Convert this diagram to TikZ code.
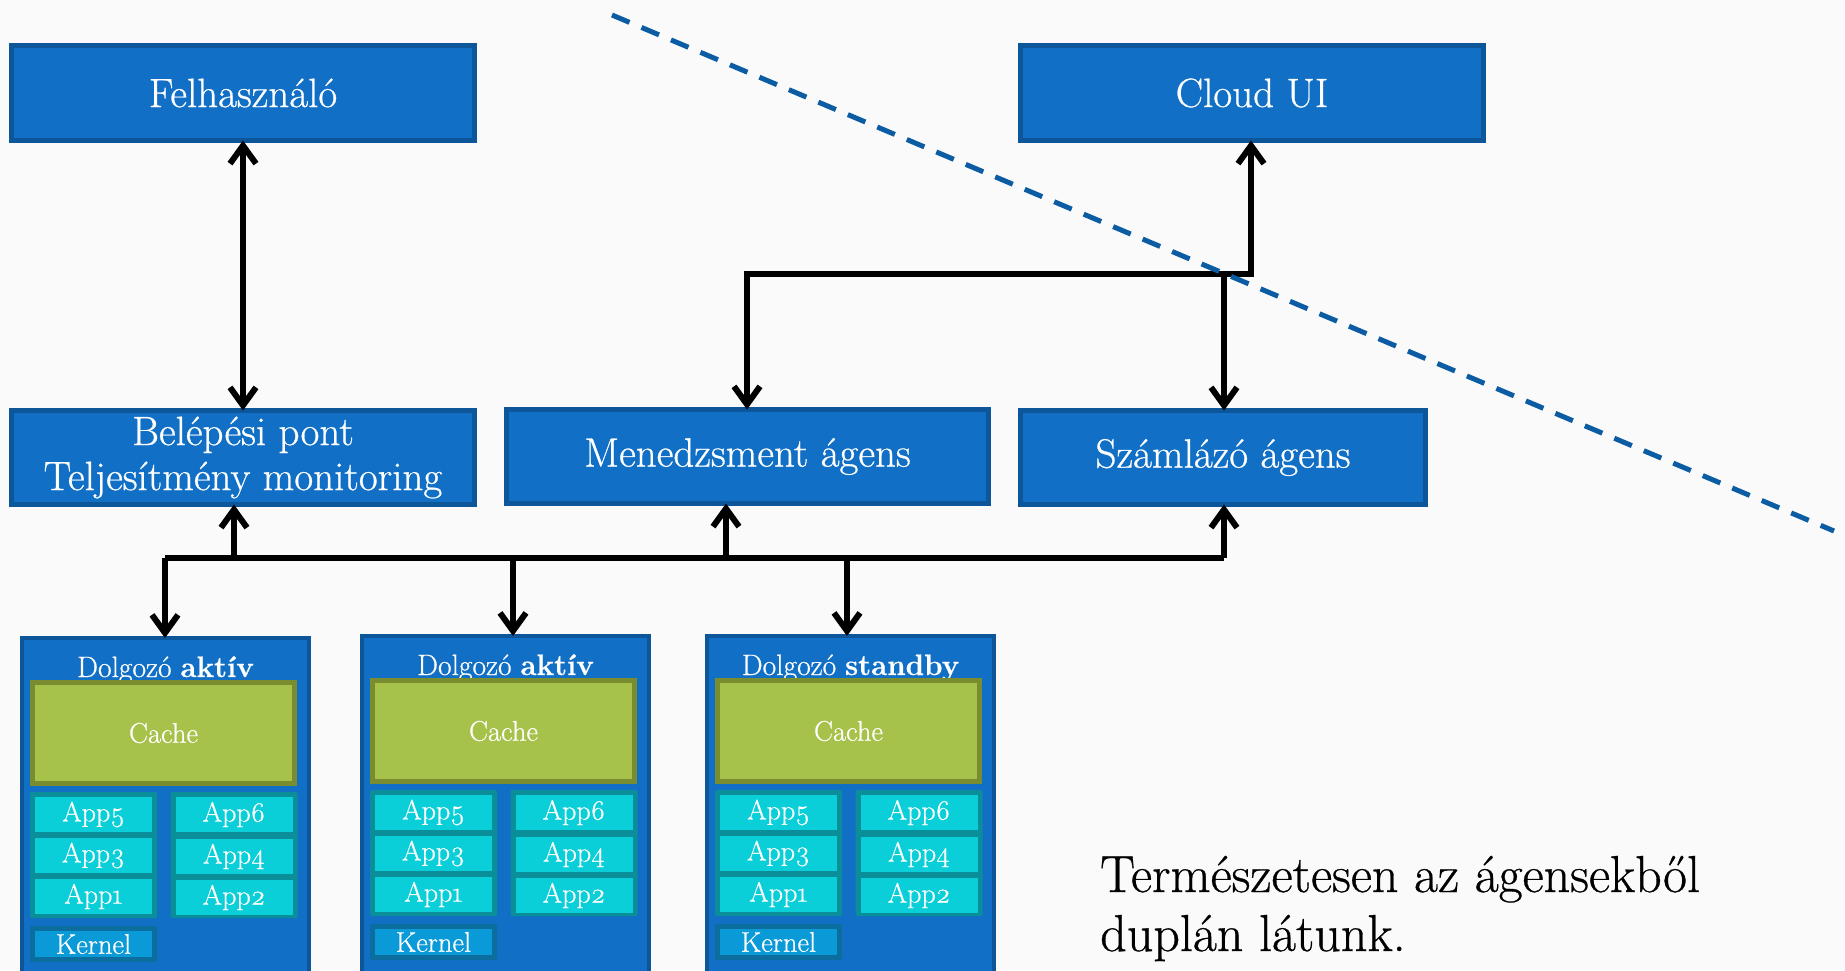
\documentclass[tikz,border=0pt]{standalone}
\usepackage{fontspec}
\setmainfont{Latin Modern Roman}[FakeBold=0.6]
\usetikzlibrary{arrows.meta}
\definecolor{bg}{HTML}{FAFAFA}
\definecolor{boxfill}{HTML}{1170C6}
\definecolor{boxline}{HTML}{0D5699}
\definecolor{cachefill}{HTML}{A7C24B}
\definecolor{cacheline}{HTML}{7A8C30}
\definecolor{grpteal}{HTML}{0A8E99}
\definecolor{appcyan}{HTML}{0BCFD8}
\definecolor{kerngrp}{HTML}{0B6E9E}
\definecolor{kernfill}{HTML}{0A9AD8}
\definecolor{dashblue}{HTML}{0B5CA3}
\tikzset{
  bigbox/.style={draw=boxline, line width=5pt, fill=boxfill, text=white,
    font=\fontsize{41}{45}\selectfont, align=center, inner sep=0pt, outer sep=0pt},
  workerbox/.style={draw=boxline, line width=4pt, fill=boxfill, inner sep=0pt, outer sep=0pt},
  wtitle/.style={text=white, font=\fontsize{29.5}{34}\selectfont, inner sep=0pt},
  cachebox/.style={draw=cacheline, line width=5pt, fill=cachefill, text=white,
    font=\fontsize{28.5}{32}\selectfont, inner sep=0pt, outer sep=0pt,
    minimum width=262pt, minimum height=101pt},
  grpbox/.style={fill=grpteal, inner sep=0pt, outer sep=0pt, rounded corners=1.5pt,
    minimum width=127pt, minimum height=126pt},
  appbox/.style={fill=appcyan, text=white, font=\fontsize{28}{32}\selectfont,
    inner sep=0pt, outer sep=0pt, minimum width=117pt, minimum height=35pt},
  kgrpbox/.style={fill=kerngrp, inner sep=0pt, outer sep=0pt, rounded corners=1.5pt,
    minimum width=127pt, minimum height=36pt},
  kernbox/.style={fill=kernfill, text=white, font=\fontsize{28.5}{32}\selectfont,
    inner sep=0pt, outer sep=0pt, minimum width=117pt, minimum height=26pt},
  conn/.style={line width=6pt, black, line join=miter},
  tip/.style={arrows={-Straight Barb[length=18pt,width=26pt]}},
  dtip/.style={arrows={Straight Barb[length=18pt,width=26pt]-Straight Barb[length=18pt,width=26pt]}},
  divider/.style={draw=dashblue, line width=5pt, dash pattern=on 19pt off 13pt},
  notetext/.style={text=black, font=\fontsize{52}{59}\selectfont, align=left, inner sep=0pt}
}
\newcommand\dolgozo[4]{%
  \node[workerbox, minimum width=287pt, minimum height=400pt] (#1) at ({#2+145.5},{#3+200}) {};
  \node[wtitle, anchor=base] (#1t) at ({#2+145.5},{#3+39}) {#4};
  \node[cachebox] (#1c) at ({#2+143.5},{#3+95}) {Cache};
  \node[grpbox] (#1gl) at ({#2+73.5},{#3+217}) {};
  \node[grpbox] (#1gr) at ({#2+214},{#3+217}) {};
  \node[appbox] (#1a5) at ({#2+73.5},{#3+176.5}) {App\textfiveoldstyle};
  \node[appbox] (#1a3) at ({#2+73.5},{#3+217.5}) {App\textthreeoldstyle};
  \node[appbox] (#1a1) at ({#2+73.5},{#3+258.5}) {App\textoneoldstyle};
  \node[appbox] (#1a6) at ({#2+214},{#3+176.5}) {App\textsixoldstyle};
  \node[appbox] (#1a4) at ({#2+214},{#3+218.5}) {App\textfouroldstyle};
  \node[appbox] (#1a2) at ({#2+214},{#3+259.5}) {App\texttwooldstyle};
  \node[kgrpbox] (#1kg) at ({#2+73.5},{#3+306}) {};
  \node[kernbox] (#1k) at ({#2+73.5},{#3+306}) {Kernel};
}
\begin{document}
\begin{tikzpicture}[x=1pt,y=-1pt]
\useasboundingbox (0,0) rectangle (1845,970);
\fill[bg] (0,0) rectangle (1845,970);
\clip (0,0) rectangle (1845,970);

% top boxes
\node[bigbox, minimum width=463pt, minimum height=95pt] (fel) at (243,93) {Felhasználó};
\node[bigbox, minimum width=463pt, minimum height=95pt] (cloud) at (1252,93) {Cloud UI};
% middle boxes
\node[bigbox, minimum width=463pt, minimum height=94pt] (bel) at (243,457.5) {Belépési pont\\Teljesítmény monitoring};
\node[bigbox, minimum width=482pt, minimum height=94pt] (men) at (747.5,456.5) {Menedzsment ágens};
\node[bigbox, minimum width=405pt, minimum height=94pt] (szam) at (1223,457.5) {Számlázó ágens};

% workers
\dolgozo{wa}{20}{638}{Dolgozó \textbf{aktív}}
\dolgozo{wb}{360}{636}{Dolgozó \textbf{aktív}}
\dolgozo{wc}{705}{636}{Dolgozó \textbf{standby}}

% connector junction points
\coordinate (jl) at (747,274);
\coordinate (jr) at (1251,274);
\coordinate (js) at (1224,274);
\coordinate (bw) at (165,558);
\coordinate (be) at (1224,558);
\coordinate (ub) at (234,558);
\coordinate (um) at (726,558);
\coordinate (d2) at (513,558);
\coordinate (d3) at (847,558);

% Felhasznalo <-> Belepesi pont
\draw[conn, dtip] (fel.south) -- (bel.north);
% management / billing / cloud UI
\draw[conn, dtip] (men.north -| jl) -- (jl) -- (jr) -- (cloud.south -| jr);
\draw[conn, tip] (js) -- (szam.north -| js);
% bus
\draw[conn] (bw) -- (be);
\draw[conn, tip] (ub) -- (bel.south -| ub);
\draw[conn, tip] (um) -- (men.south -| um);
\draw[conn, tip] (be) -- (szam.south -| be);
\draw[conn, tip] (bw) -- (wa.north -| bw);
\draw[conn, tip] (d2) -- (wb.north -| d2);
\draw[conn, tip] (d3) -- (wc.north -| d3);

% dashed divider
\coordinate (dA) at (612,15);
\coordinate (dB) at (1834,531);
\draw[divider] (dA) -- (dB);

% note
\node[notetext, anchor=base west] (note) at (1100,951) {Természetesen az ágensekből\\duplán látunk.};
\end{tikzpicture}
\end{document}
